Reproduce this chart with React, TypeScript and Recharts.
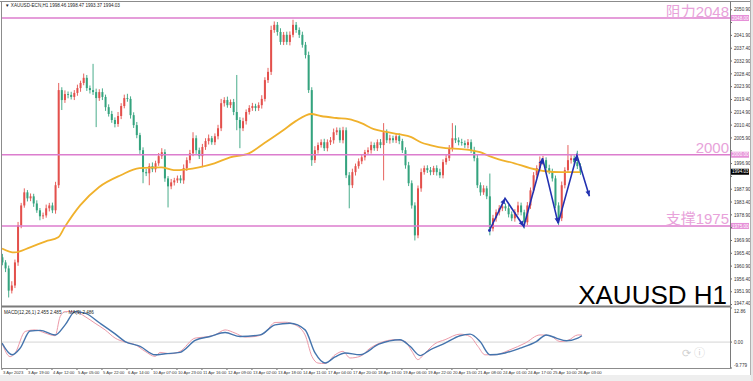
import React from 'react';
import { ComposedChart, Bar, Line, XAxis, YAxis, ReferenceLine } from 'recharts';

const UP = '#e3504c';
const DOWN = '#34a37e';
const MA = '#f0b12c';
const ZZ = '#2231b0';
const LEVEL = '#dc7dce';
const LEVEL_TXT = '#e8a2da';
const MACD_C = '#ec9aa8';
const SIGNAL_C = '#4474ad';
const FONT = '"Liberation Sans", Arial, "Noto Sans CJK SC", sans-serif';

// 2-hour candles (index = bar number)
const firstOpen = 1964.0;
const closes = [
  1962.2, 1960.1, 1952.3, 1954.1, 1962.2, 1975.2, 1982.2, 1986.8, 1984.7, 1985.4,
  1982.9, 1980.5, 1978.4, 1978.7, 1981.2, 1982.2, 1980.5, 1989.3, 2022.7, 2019.2,
  2021.3, 2021.0, 2020.3, 2021.7, 2023.4, 2025.2, 2027.0, 2023.4, 2022.7, 2022.0,
  2019.9, 2022.0, 2020.3, 2016.7, 2014.3, 2012.2, 2010.8, 2013.6, 2017.1, 2019.9,
  2019.6, 2013.9, 2010.4, 2006.9, 2001.6, 1993.9, 1993.5, 1996.0, 1994.9, 1997.0,
  1999.5, 2000.9, 1991.7, 1988.9, 1990.3, 1991.0, 1991.7, 1991.0, 1995.3, 1998.1,
  2000.5, 2005.8, 2001.6, 1999.5, 2002.7, 2004.8, 2005.8, 2004.4, 2006.5, 2009.3,
  2018.1, 2019.2, 2017.4, 2018.5, 2015.0, 2012.2, 2009.3, 2011.8, 2015.0, 2016.4,
  2017.1, 2016.4, 2017.4, 2019.6, 2026.2, 2029.1, 2043.8, 2045.6, 2043.1, 2039.6,
  2042.1, 2039.6, 2042.1, 2045.6, 2043.8, 2042.1, 2038.6, 2035.0, 2022.7, 1998.1,
  2001.6, 2003.4, 2004.4, 2002.3, 2004.4, 2005.1, 2007.9, 2008.6, 2005.1, 2008.6,
  1992.8, 1989.3, 1993.9, 1996.0, 1997.7, 1999.1, 2000.9, 2001.6, 2003.4, 2002.3,
  2004.4, 2003.4, 2007.9, 2005.1, 2005.8, 2005.1, 2006.5, 2004.8, 2001.6, 1996.3,
  1990.0, 1982.2, 1971.7, 1988.2, 1993.9, 1995.3, 1994.6, 1993.9, 1995.3, 1993.9,
  1992.8, 1997.4, 1998.8, 2002.3, 2005.8, 2005.1, 2004.4, 2004.1, 2003.4, 2004.4,
  2001.6, 1998.8, 1989.3, 1986.8, 1988.2, 1985.4, 1974.1, 1977.7, 1979.8, 1981.2,
  1981.9, 1981.2, 1979.1, 1977.7, 1979.8, 1982.2, 1979.8, 1976.3, 1982.2, 1987.5,
  1992.8, 1995.3, 1997.4, 1998.1, 1995.3, 1994.2, 1991.7, 1982.2, 1977.7, 1989.3,
  1994.6, 1998.1, 1998.8, 1997.4, 1996.0, 1994.03,
];
const wickUp = [
  1.2, 0.8, 1.0, 1.5, 1.0, 1.2, 0.9, 1.4, 0.8, 1.0,
  0.9, 1.1, 0.8, 1.0, 1.3, 0.9, 1.0, 1.2, 2.5, 1.0,
  1.3, 0.9, 1.1, 1.0, 1.2, 0.8, 1.5, 1.0, 0.9, 9.2,
  1.2, 1.0, 1.3, 0.8, 1.0, 1.1, 0.9, 1.4, 1.0, 1.2,
  1.5, 0.9, 1.0, 1.1, 0.8, 1.0, 1.2, 1.0, 1.3, 0.9,
  1.1, 1.4, 1.0, 0.8, 1.2, 0.9, 1.0, 1.1, 1.3, 1.0,
  1.2, 2.1, 1.0, 0.9, 1.1, 1.0, 1.3, 0.8, 1.0, 1.2,
  1.5, 1.0, 1.2, 0.9, 1.1, 13.0, 1.0, 1.2, 0.9, 1.0,
  1.1, 0.8, 1.0, 1.3, 1.0, 1.4, 1.5, 1.2, 1.0, 1.3,
  1.0, 1.1, 1.2, 1.8, 1.0, 0.9, 1.1, 1.0, 1.2, 1.0,
  1.4, 0.9, 1.0, 1.2, 1.0, 1.1, 1.3, 1.0, 0.9, 1.2,
  1.0, 1.1, 1.2, 0.9, 1.0, 1.1, 0.8, 1.0, 1.2, 0.9,
  1.0, 1.1, 3.2, 1.0, 1.2, 0.9, 1.1, 1.0, 0.8, 1.0,
  1.2, 1.0, 1.1, 1.0, 1.3, 0.9, 1.0, 1.1, 0.8, 1.0,
  1.2, 1.0, 1.3, 1.1, 5.3, 4.5, 1.0, 1.2, 0.9, 1.1,
  1.0, 1.2, 1.4, 1.0, 1.1, 0.9, 8.0, 1.2, 1.0, 1.1,
  0.9, 1.0, 1.2, 1.0, 1.1, 1.3, 1.0, 0.9, 1.2, 1.0,
  1.1, 1.0, 2.0, 1.5, 1.0, 1.2, 0.9, 1.0, 1.1, 1.3,
  1.0, 5.3, 1.2, 1.0, 4.0, 1.0,
];
const wickDn = [
  1.0, 1.3, 2.4, 1.0, 0.9, 1.2, 1.0, 0.8, 1.1, 1.0,
  1.2, 0.9, 1.4, 1.0, 0.8, 1.1, 1.0, 1.2, 1.0, 3.5,
  1.0, 1.2, 0.9, 1.1, 1.0, 1.3, 0.8, 1.0, 1.2, 1.0,
  10.2, 1.0, 1.1, 1.3, 0.9, 1.0, 1.2, 1.0, 1.1, 0.8,
  1.0, 1.2, 1.0, 1.1, 1.3, 3.9, 1.0, 4.2, 1.0, 1.1,
  0.9, 1.0, 1.2, 7.4, 1.0, 1.1, 0.9, 1.0, 1.2, 1.0,
  1.1, 1.0, 1.3, 1.0, 3.9, 1.0, 1.2, 0.9, 1.0, 1.1,
  1.0, 1.2, 0.9, 1.0, 1.1, 3.6, 7.0, 1.0, 1.2, 0.9,
  1.0, 1.1, 1.0, 1.2, 0.9, 1.0, 1.1, 1.0, 1.3, 1.0,
  1.1, 1.0, 1.2, 0.9, 1.0, 1.1, 1.0, 1.2, 1.0, 2.0,
  1.0, 1.2, 0.9, 1.0, 1.1, 1.0, 1.2, 1.0, 0.9, 1.1,
  1.0, 8.1, 1.0, 1.2, 0.9, 1.0, 1.1, 1.0, 1.2, 0.9,
  1.0, 1.1, 12.4, 1.0, 1.2, 0.9, 1.0, 1.1, 1.0, 1.2,
  1.0, 1.1, 1.8, 1.0, 1.2, 0.9, 1.0, 1.1, 1.0, 1.2,
  1.0, 1.1, 0.9, 1.0, 1.2, 1.0, 1.1, 0.9, 1.0, 1.2,
  1.0, 1.1, 1.0, 1.2, 0.9, 1.0, 2.4, 1.0, 1.2, 1.1,
  1.0, 0.9, 1.1, 1.0, 1.2, 1.0, 1.1, 2.2, 1.0, 1.2,
  0.9, 1.0, 1.1, 1.0, 1.2, 1.0, 1.1, 1.0, 2.5, 1.0,
  1.1, 1.0, 1.2, 0.9, 1.0, 1.1,
];

// orange moving average
const maT = [0, 4, 9, 14, 18, 20, 25, 31, 38, 44, 51, 55, 59, 63, 68, 73, 79, 84, 90, 94, 99, 102, 107, 111, 115, 119, 123, 127, 131, 134, 137, 142, 147, 150, 153, 156, 159, 164, 169, 174, 179, 185];
const maV = [1967.1, 1965.7, 1967.5, 1969.6, 1971.0, 1974.5, 1982.2, 1988.6, 1992.8, 1995.3, 1995.6, 1994.6, 1994.9, 1995.6, 1997.0, 1999.1, 2000.5, 2004.1, 2008.6, 2011.8, 2014.3, 2013.6, 2012.9, 2012.5, 2011.1, 2009.0, 2008.0, 2007.2, 2006.2, 2004.4, 2003.4, 2002.3, 2002.0, 2001.6, 2000.9, 1999.5, 1998.4, 1997.0, 1995.3, 1994.2, 1993.9, 1993.9];

// hand drawn zigzag
const zzT = [156, 161, 167, 173, 178, 184, 188];
const zzV = [1973.4, 1984.7, 1974.8, 1998.8, 1975.9, 1999.8, 1985.4];

// MACD pane
const macdT = [0, 2.6, 4.2, 7.4, 10.6, 13.8, 17, 18.6, 20.2, 23.4, 26.6, 29.8, 33, 36.2, 39.4, 42.6, 45.8, 49, 50.6, 53.8, 57, 61.8, 65, 68.2, 71.4, 74.6, 77.8, 81, 84.2, 87.4, 90.6, 93.8, 97, 99.2, 101.1, 103.4, 106.6, 109.1, 111.4, 114.6, 117.8, 121, 125.8, 129, 131.2, 133.1, 135.4, 138.6, 141.8, 146.6, 149.8, 152.3, 154.6, 157.8, 162.6, 167.4, 172.2, 175.4, 178.6, 181.1, 184.3, 185.6];
const macdV = [-0.3, -5.5, -4.1, 4.0, 4.6, 3.4, 2.4, 9.6, 11.5, 11.5, 9.6, 7.1, 4.6, 1.5, 0, -1.0, -3.5, -5.4, -3.9, -4.4, -3.5, 1.5, 1.9, 2.7, 4.6, 3.4, 1.9, 2.1, 3.6, 7.4, 7.5, 6.5, 2.7, -5.4, -7.9, -8.1, -4.8, -3.5, -6.0, -5.4, -2.3, -0.3, 0.9, 0.2, -3.5, -6.6, -4.1, -0.6, 0.9, 3.0, 2.1, -1.6, -4.8, -4.8, -2.9, -0.4, 2.7, 2.4, 0.2, 0.6, 2.7, 2.7];
const sigT = [0, 3.2, 5.8, 9, 12.2, 17, 20.2, 23.4, 26.6, 31.4, 36.2, 39.4, 44.2, 49, 52.2, 57, 61.8, 66.6, 71.4, 76.2, 82.6, 87.4, 92.2, 97, 100.2, 103.4, 106.6, 109.8, 114.6, 120.6, 127.4, 130.6, 133.8, 137, 141.8, 146.6, 149.8, 153, 156.2, 161, 165.8, 171, 174.2, 177.4, 180.6, 184.3, 185.6];
const sigV = [-0.4, -4.8, -2.3, 4.2, 4.4, 2.7, 6.5, 11.5, 10.9, 7.1, 3.1, 0.2, -1.6, -4.8, -4.4, -3.9, 0.6, 2.1, 3.6, 2.1, 2.7, 6.5, 7.1, 4.6, -4.1, -7.9, -5.6, -4.1, -4.8, -0.8, 0.9, -1.6, -5.1, -2.9, -0.4, 2.4, 3.0, 0.2, -4.8, -4.1, -2.3, 0.2, 2.7, 1.5, 0.5, 1.5, 2.4];

const priceTicks = [2050.9, 2046.4, 2041.9, 2037.4, 2032.9, 2028.4, 2023.9, 2019.4, 2014.9, 2010.4, 2005.9, 2001.4, 1996.9, 1992.4, 1987.9, 1983.4, 1978.9, 1974.4, 1969.9, 1965.4, 1960.9, 1956.4, 1951.9, 1947.4];
const macdTicks = [12.86, 0, -9.779];
const macdTickLabels = ['12.86', '0.00', '-9.779'];
const timeTicks = [0, 8, 16, 24, 32, 40, 48, 56, 64, 72, 80, 88, 96, 104, 112, 120, 128, 136, 144, 152, 160, 168, 176, 184];
const timeLabels = ['3 Apr 2023', '3 Apr 19:00', '4 Apr 12:00', '5 Apr 05:00', '5 Apr 22:00', '6 Apr 14:00', '10 Apr 07:00', '10 Apr 23:00', '11 Apr 16:00', '12 Apr 09:00', '13 Apr 02:00', '13 Apr 18:00', '14 Apr 11:00', '17 Apr 04:00', '17 Apr 20:00', '18 Apr 13:00', '19 Apr 06:00', '19 Apr 22:00', '20 Apr 15:00', '21 Apr 08:00', '24 Apr 01:00', '24 Apr 17:00', '25 Apr 10:00', '26 Apr 03:00'];

const levelValues = [2048, 2000, 1975];
const levelTexts = ['阻力2048', '2000', '支撑1975'];

const candles = closes.map((c, i) => {
  const o = i === 0 ? firstOpen : closes[i - 1];
  const high = Math.max(o, c) + (wickUp[i] ?? 1);
  const low = Math.min(o, c) - (wickDn[i] ?? 1);
  return { t: i, open: o, close: c, high, low, range: [low, high] };
});
const lastClose = closes[closes.length - 1];
const maData = maT.map((t, i) => ({ t, v: maV[i] }));
const zzData = zzT.map((t, i) => ({ t, v: zzV[i] }));
const macdData = macdT.map((t, i) => ({ t, v: macdV[i] }));
const sigData = sigT.map((t, i) => ({ t, v: sigV[i] }));

// axis labels hidden under the coloured price tags
const tagLevels = [...levelValues, lastClose];
const coveredByTag = (v: number) => tagLevels.some((l) => Math.abs(l - v) < 2.2);

const Candle = (props: any) => {
  const { x, y, width, height, payload } = props;
  if (!payload || x == null || y == null) return null;
  const { open, close, high, low } = payload;
  const top = Math.min(y, y + height);
  const h = Math.abs(height);
  const k = h / (high - low || 1);
  const yo = top + (high - open) * k;
  const yc = top + (high - close) * k;
  const color = close >= open ? UP : DOWN;
  const cx = x + width / 2;
  return (
    <g>
      <line x1={cx} x2={cx} y1={top} y2={top + h} stroke={color} strokeWidth={0.9} />
      <rect x={x} y={Math.min(yo, yc)} width={width} height={Math.max(Math.abs(yo - yc), 0.8)} fill={color} />
    </g>
  );
};

const ZigDot = (p: any) => {
  const { cx, cy, index, points } = p;
  if (cx == null || cy == null) return <g key={`zz-${index}`} />;
  if (index === 0 || !points || !points[index - 1]) {
    return <circle key={`zz-${index}`} cx={cx} cy={cy} r={1.4} fill={ZZ} />;
  }
  const prev = points[index - 1];
  const a = Math.atan2(cy - prev.y, cx - prev.x);
  const L = 5.5;
  const hw = 2.4;
  const bx = cx - L * Math.cos(a);
  const by = cy - L * Math.sin(a);
  const px = -Math.sin(a) * hw;
  const py = Math.cos(a) * hw;
  return <path key={`zz-${index}`} d={`M${cx},${cy}L${bx + px},${by + py}L${bx - px},${by - py}Z`} fill={ZZ} />;
};

const PriceTick = (p: any) => {
  const v = Number(p.payload.value);
  if (coveredByTag(v)) return <g />;
  return (
    <text x={p.x} y={p.y} dy={v < 1950 ? 0 : 1.7} fontSize={4.6} fill="#333" textAnchor="start" fontFamily={FONT}>
      {v.toFixed(2)}
    </text>
  );
};

const MacdTick = (p: any) => (
  <text x={p.x} y={p.y} dy={p.index === 0 ? 5 : p.index === 2 ? -1 : 1.7} fontSize={4.6} fill="#333" textAnchor="start" fontFamily={FONT}>
    {macdTickLabels[macdTicks.indexOf(p.payload.value)]}
  </text>
);

const TimeTick = (p: any) => (
  <text x={p.x + 1} y={p.y} dy={1.5} fontSize={4.2} fill="#333" textAnchor="start" fontFamily={FONT}>
    {timeLabels[timeTicks.indexOf(p.payload.value)]}
  </text>
);

const levelLabel = (text: string, value: number) => (lp: any) => {
  const vb = lp.viewBox || {};
  const right = vb.x + vb.width;
  return (
    <g>
      <text x={right - 1} y={vb.y - 1.5} fontSize={15} fill={LEVEL_TXT} textAnchor="end" fontFamily={FONT}>
        {text}
      </text>
      <rect x={right + 1} y={vb.y - 3} width={18} height={6} fill="#e690d8" />
      <text x={right + 2} y={vb.y + 1.6} fontSize={4.6} fill="#fff" fontFamily={FONT}>
        {value.toFixed(2)}
      </text>
    </g>
  );
};

const priceTag = (lp: any) => {
  const vb = lp.viewBox || {};
  const right = vb.x + vb.width;
  return (
    <g>
      <rect x={right + 1} y={vb.y - 3} width={18} height={6} fill="#000" />
      <text x={right + 2} y={vb.y + 1.6} fontSize={4.6} fill="#fff" fontFamily={FONT}>
        {lastClose.toFixed(2)}
      </text>
    </g>
  );
};

export default function App() {
  return (
    <div style={{ position: 'absolute', left: 0, top: 0, width: 753, height: 381, background: '#fff', overflow: 'hidden', fontFamily: FONT }}>
      <div style={{ position: 'absolute', left: 0, top: 0 }}>
        <ComposedChart width={753} height={306} data={candles} margin={{ top: 3, right: 0, bottom: 0, left: 2 }}>
          <XAxis dataKey="t" type="number" domain={[0, 233]} hide allowDataOverflow />
          <YAxis
            orientation="right"
            width={23}
            type="number"
            domain={[1946.9, 2053.27]}
            ticks={priceTicks}
            interval={0}
            allowDataOverflow
            tick={PriceTick}
            tickSize={2}
            tickLine={{ stroke: '#666' }}
            axisLine={false}
          />
          <Bar dataKey="range" barSize={2} shape={Candle} isAnimationActive={false} />
          <Line data={maData} dataKey="v" type="monotone" stroke={MA} strokeWidth={1.8} dot={false} isAnimationActive={false} />
          {levelValues.map((v, i) => (
            <ReferenceLine key={v} y={v} stroke={LEVEL} strokeWidth={1.5} label={levelLabel(levelTexts[i], v)} />
          ))}
          <ReferenceLine y={lastClose} stroke="none" label={priceTag} />
          <Line data={zzData} dataKey="v" type="linear" stroke={ZZ} strokeWidth={1.6} dot={ZigDot} isAnimationActive={false} />
        </ComposedChart>
      </div>
      <div style={{ position: 'absolute', left: 0, top: 306 }}>
        <ComposedChart width={753} height={75} margin={{ top: 2, right: 0, bottom: 0, left: 2 }}>
          <XAxis
            dataKey="t"
            type="number"
            domain={[0, 233]}
            ticks={timeTicks}
            interval={0}
            height={13}
            tick={TimeTick}
            tickSize={2}
            tickLine={{ stroke: '#666' }}
            axisLine={false}
            allowDataOverflow
          />
          <YAxis
            orientation="right"
            width={23}
            type="number"
            domain={[-9.779, 12.86]}
            ticks={macdTicks}
            interval={0}
            allowDataOverflow
            tick={MacdTick}
            tickSize={2}
            tickLine={{ stroke: '#666' }}
            axisLine={false}
          />
          <ReferenceLine y={0} stroke="#c9c9c9" strokeWidth={0.8} />
          <Line data={macdData} dataKey="v" type="monotone" stroke={MACD_C} strokeWidth={1} dot={false} isAnimationActive={false} />
          <Line data={sigData} dataKey="v" type="monotone" stroke={SIGNAL_C} strokeWidth={1.4} dot={false} isAnimationActive={false} />
        </ComposedChart>
      </div>
      <svg width={753} height={381} style={{ position: 'absolute', left: 0, top: 0, pointerEvents: 'none' }}>
        <rect x={0} y={375} width={753} height={6} fill="#eeeeee" />
        <rect x={751} y={0} width={2} height={381} fill="#e6e6e6" />
        <line x1={0} x2={751} y1={1.5} y2={1.5} stroke="#8c8c8c" strokeWidth={1} />
        <line x1={1.5} x2={1.5} y1={1.5} y2={368.5} stroke="#8c8c8c" strokeWidth={1} />
        <line x1={730.5} x2={730.5} y1={1.5} y2={368.5} stroke="#7a7a7a" strokeWidth={1} />
        <line x1={1.5} x2={730.5} y1={306.5} y2={306.5} stroke="#7a7a7a" strokeWidth={2} />
        <line x1={1.5} x2={730.5} y1={368.5} y2={368.5} stroke="#8c8c8c" strokeWidth={1} />
        <line x1={750.5} x2={750.5} y1={0} y2={375} stroke="#b0b0b0" strokeWidth={1} />
        <text x={5} y={7} fontSize={4.6} fill="#222" fontFamily={FONT}>▼ XAUUSD-ECN,H1  1998.46 1998.47 1993.37 1994.03</text>
        <text x={4} y={313.5} fontSize={4.6} fill="#222" fontFamily={FONT}>MACD(12,26,1) 2.455 2.485 ··· MA(9) 2.486</text>
        <text x={727} y={304} fontSize={26} fill="#000" textAnchor="end" fontFamily={FONT}>XAUUSD H1</text>
        <text x={705} y={357} fontSize={11} fill="#cfcfcf" textAnchor="end" fontFamily={FONT}>⟳ ⓘ</text>
      </svg>
    </div>
  );
}
